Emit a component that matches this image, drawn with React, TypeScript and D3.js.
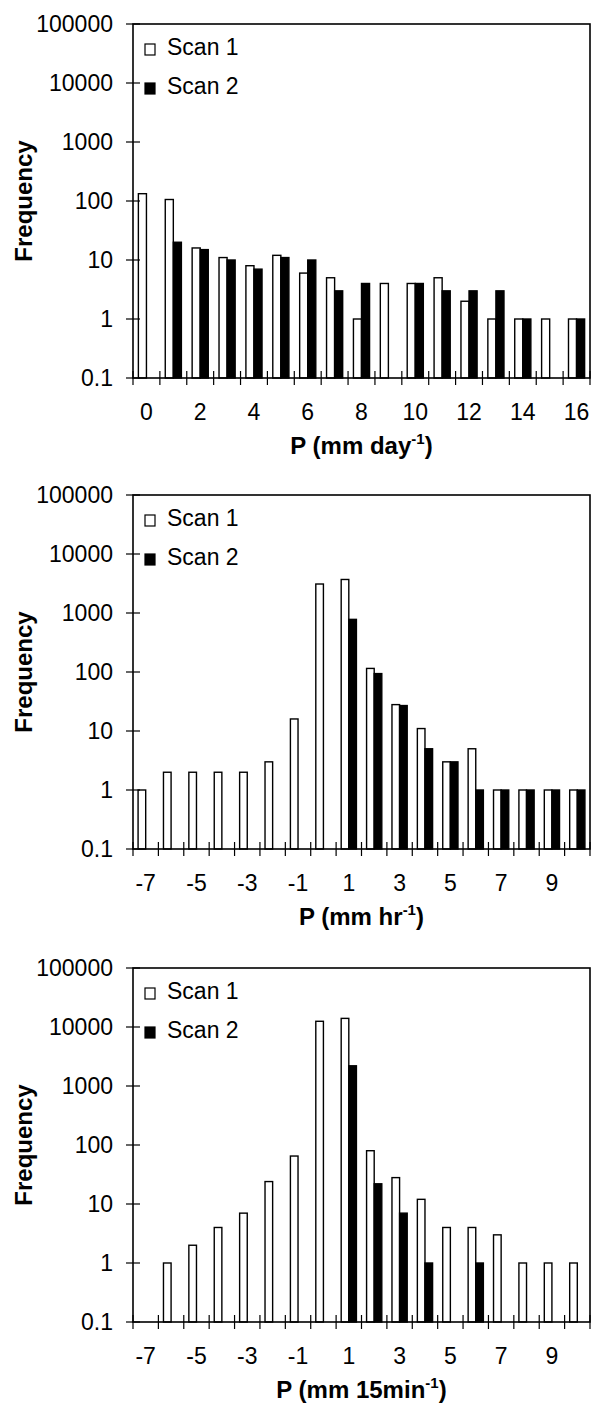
import React, { useEffect } from 'react';
import * as d3 from 'd3';

// frequency histograms, three resolutions
const dayCats = ['0','1','2','3','4','5','6','7','8','9','10','11','12','13','14','15','16'];
const dayScan1 = [133, 106, 16, 11, 8, 12, 6, 5, 1, 4, 4, 5, 2, 1, 1, 1, 1];
const dayScan2 = [0, 20, 15, 10, 7, 11, 10, 3, 4, 0, 4, 3, 3, 3, 1, 0, 1];

const hrCats = ['-7','-6','-5','-4','-3','-2','-1','0','1','2','3','4','5','6','7','8','9','10'];
const hrScan1 = [1, 2, 2, 2, 2, 3, 16, 3100, 3700, 115, 28, 11, 3, 5, 1, 1, 1, 1];
const hrScan2 = [0, 0, 0, 0, 0, 0, 0, 0, 780, 94, 27, 5, 3, 1, 1, 1, 1, 1];

const minCats = ['-7','-6','-5','-4','-3','-2','-1','0','1','2','3','4','5','6','7','8','9','10'];
const minScan1 = [0, 1, 2, 4, 7, 24, 65, 12500, 14000, 80, 28, 12, 4, 4, 3, 1, 1, 1];
const minScan2 = [0, 0, 0, 0, 0, 0, 0, 0, 2200, 22, 7, 1, 0, 1, 0, 0, 0, 0];

const yTicks = [0.1, 1, 10, 100, 1000, 10000, 100000];
const yTickLabels = ['0.1', '1', '10', '100', '1000', '10000', '100000'];
const seriesNames = ['Scan 1', 'Scan 2'];

const font = "Arial, 'Liberation Sans', Helvetica, sans-serif";

function Panel({ top, cats, s1, s2, unit }) {
  const left = 133, right = 590, h = 354;
  const x = d3.scaleBand().domain(cats).range([left, right]).padding(0);
  const y = d3.scaleLog().domain([0.1, 100000]).range([top + h, top]);
  const bw = x.bandwidth() * 0.3;
  const base = top + h;
  const edges = cats.map(c => x(c)).concat([right]);

  return (
    <g>
      {/* bars */}
      {cats.map((c, i) => {
        const cx = x(c) + x.bandwidth() / 2;
        return (
          <g key={c}>
            {s1[i] > 0 && (
              <rect x={cx - bw} y={y(s1[i])} width={bw} height={base - y(s1[i])}
                fill="#fff" stroke="#000" strokeWidth={1.4} />
            )}
            {s2[i] > 0 && (
              <rect x={cx} y={y(s2[i])} width={bw} height={base - y(s2[i])}
                fill="#000" stroke="#000" strokeWidth={1.4} />
            )}
          </g>
        );
      })}
      {/* frame */}
      <rect x={left} y={top} width={right - left} height={h} fill="none" stroke="#000" strokeWidth={1.6} />
      {/* y ticks */}
      {yTicks.map((t, i) => (
        <g key={t}>
          <line x1={left - 7} x2={left + 7} y1={y(t)} y2={y(t)} stroke="#000" strokeWidth={1.2} />
          <text x={113} y={y(t)} dy="0.36em" textAnchor="end" fontSize={23} fontFamily={font}>{yTickLabels[i]}</text>
        </g>
      ))}
      {/* x ticks */}
      {edges.map((e, i) => (
        <line key={i} x1={e} x2={e} y1={base - 7} y2={base + 7} stroke="#000" strokeWidth={1.2} />
      ))}
      {cats.map((c, i) => i % 2 === 0 && (
        <text key={c} x={x(c) + x.bandwidth() / 2} y={base + 42} textAnchor="middle" fontSize={23} fontFamily={font}>{c}</text>
      ))}
      {/* axis titles */}
      <text x={(left + right) / 2} y={base + 76} textAnchor="middle" fontSize={24} fontWeight="bold" fontFamily={font}>
        {'P (mm ' + unit}<tspan fontSize={15} dy={-10}>-1</tspan><tspan dy={10}>)</tspan>
      </text>
      <text transform={`translate(32,${top + h / 2}) rotate(-90)`} textAnchor="middle" fontSize={24} fontWeight="bold" fontFamily={font}>Frequency</text>
      {/* legend */}
      {seriesNames.map((n, i) => (
        <g key={n}>
          <rect x={left + 12} y={top + 20 + i * 39} width={10} height={11}
            fill={i === 0 ? '#fff' : '#000'} stroke="#000" strokeWidth={1.2} />
          <text x={left + 34} y={top + 31 + i * 39} fontSize={23} fontFamily={font}>{n}</text>
        </g>
      ))}
    </g>
  );
}

export default function App() {
  useEffect(() => {
    document.body.style.margin = '0';
  }, []);
  return (
    <svg width={594} height={1406} style={{ display: 'block', background: '#fff' }}>
      <Panel top={24} cats={dayCats} s1={dayScan1} s2={dayScan2} unit="day" />
      <Panel top={495} cats={hrCats} s1={hrScan1} s2={hrScan2} unit="hr" />
      <Panel top={968} cats={minCats} s1={minScan1} s2={minScan2} unit="15min" />
    </svg>
  );
}
